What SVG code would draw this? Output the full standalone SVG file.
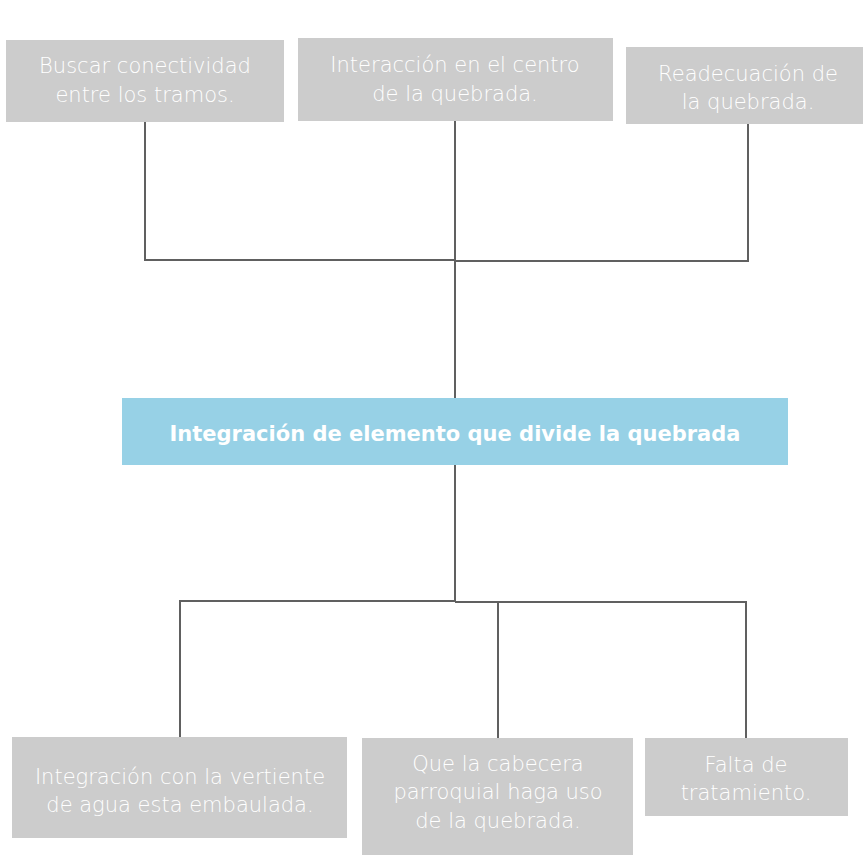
<svg xmlns="http://www.w3.org/2000/svg" width="863" height="855" viewBox="0 0 863 855">
<style>
.box{fill:#cccccc}
.main{fill:#97d1e6}
.t{font-family:"DejaVu Sans","Liberation Sans",sans-serif;font-size:21px;font-weight:200;fill:#ffffff;text-anchor:middle}
.tb{font-family:"DejaVu Sans","Liberation Sans",sans-serif;font-size:21px;font-weight:bold;fill:#ffffff;text-anchor:middle}
.c{stroke:#606060;stroke-width:2;fill:none}
</style>
<rect width="863" height="855" fill="#ffffff"/>
<g id="connectors">
<polyline class="c" points="145,122 145,260 455,260"/>
<polyline class="c" points="748,124 748,261 455,261"/>
<line class="c" x1="455" y1="121" x2="455" y2="398"/>
<line class="c" x1="455" y1="465" x2="455" y2="601"/>
<polyline class="c" points="455,601 180,601 180,737"/>
<polyline class="c" points="455,602 746,602 746,738"/>
<line class="c" x1="498" y1="602" x2="498" y2="738"/>
</g>
<g id="n1">
<rect class="box" x="6" y="40" width="278" height="82"/>
<text class="t" x="145" y="73">Buscar conectividad</text>
<text class="t" x="145" y="102">entre los tramos.</text>
</g>
<g id="n2">
<rect class="box" x="298" y="38" width="315" height="83"/>
<text class="t" x="455" y="72">Interacción en el centro</text>
<text class="t" x="455" y="101">de la quebrada.</text>
</g>
<g id="n3">
<rect class="box" x="626" y="47" width="237" height="77"/>
<text class="t" x="748" y="81">Readecuación de</text>
<text class="t" x="748" y="109">la quebrada.</text>
</g>
<g id="center">
<rect class="main" x="122" y="398" width="666" height="67"/>
<text class="tb" x="455" y="441">Integración de elemento que divide la quebrada</text>
</g>
<g id="b1">
<rect class="box" x="12" y="737" width="335" height="101"/>
<text class="t" x="180" y="784">Integración con la vertiente</text>
<text class="t" x="180" y="812">de agua esta embaulada.</text>
</g>
<g id="b2">
<rect class="box" x="362" y="738" width="271" height="117"/>
<text class="t" x="498" y="771">Que la cabecera</text>
<text class="t" x="498" y="799">parroquial haga uso</text>
<text class="t" x="498" y="828">de la quebrada.</text>
</g>
<g id="b3">
<rect class="box" x="645" y="738" width="203" height="78"/>
<text class="t" x="746" y="772">Falta de</text>
<text class="t" x="746" y="800">tratamiento.</text>
</g>
</svg>
